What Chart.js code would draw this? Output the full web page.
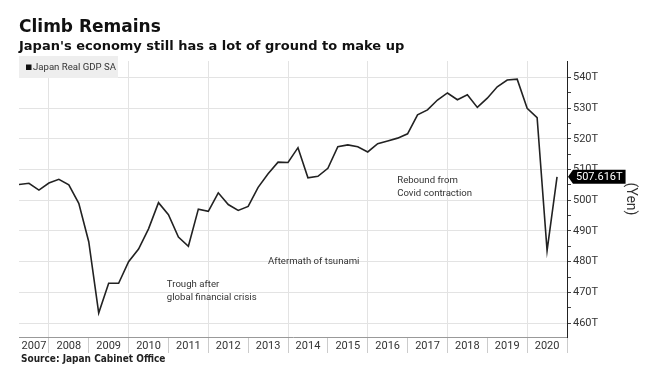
<!DOCTYPE html>
<html>
<head>
<meta charset="utf-8">
<script src="https://cdn.jsdelivr.net/npm/chart.js@4.4.1/dist/chart.umd.min.js"></script>
<style>
  html, body { margin: 0; padding: 0; background: #fff; }
  #wrap { width: 649px; height: 380px; position: relative; }
</style>
</head>
<body>
<div id="wrap"><canvas id="gdpChart"></canvas></div>
<script>
// Japan real GDP, seasonally adjusted (trillion yen), quarterly
const quarters = [
  "2007 Q1","2007 Q2","2007 Q3","2007 Q4","2008 Q1","2008 Q2","2008 Q3","2008 Q4",
  "2009 Q1","2009 Q2","2009 Q3","2009 Q4","2010 Q1","2010 Q2","2010 Q3","2010 Q4",
  "2011 Q1","2011 Q2","2011 Q3","2011 Q4","2012 Q1","2012 Q2","2012 Q3","2012 Q4",
  "2013 Q1","2013 Q2","2013 Q3","2013 Q4","2014 Q1","2014 Q2","2014 Q3","2014 Q4",
  "2015 Q1","2015 Q2","2015 Q3","2015 Q4","2016 Q1","2016 Q2","2016 Q3","2016 Q4",
  "2017 Q1","2017 Q2","2017 Q3","2017 Q4","2018 Q1","2018 Q2","2018 Q3","2018 Q4",
  "2019 Q1","2019 Q2","2019 Q3","2019 Q4","2020 Q1","2020 Q2","2020 Q3"
];
const gdpValues = [
  505.1, 505.5, 503.3, 505.6, 506.8, 505.0, 499.0, 486.5,
  463.3, 473.0, 473.0, 480.0, 484.1, 490.7, 499.2, 495.3,
  488.0, 485.0, 497.1, 496.4, 502.4, 498.6, 496.7, 498.0,
  504.2, 508.6, 512.4, 512.3, 517.1, 507.3, 507.8, 510.4,
  517.4, 518.0, 517.4, 515.7, 518.4, 519.3, 520.2, 521.6,
  527.8, 529.4, 532.6, 534.9, 532.7, 534.3, 530.2, 533.2,
  536.9, 539.1, 539.4, 529.9, 526.9, 483.6, 507.616
];
const yearLabels = ["2007","2008","2009","2010","2011","2012","2013",
                    "2014","2015","2016","2017","2018","2019","2020"];
const yTickValues = [460, 470, 480, 490, 500, 510, 520, 530, 540];

const notes = [
  { lines: ["Rebound from", "Covid contraction"], x: 2016.74, y: 506.4 },
  { lines: ["Aftermath of tsunami"], x: 2013.5, y: 480.0 },
  { lines: ["Trough after", "global financial crisis"], x: 2010.96, y: 472.5 }
];

const GRID = "#e3e3e3";
const TEXT = "#222";

// quarter label -> decimal year at end of quarter
function quarterEnd(q) {
  const [yr, qq] = q.split(" Q");
  return Number(yr) + Number(qq) / 4;
}
const points = quarters.map((q, i) => ({ x: quarterEnd(q), y: gdpValues[i] }));

const firstYear = Number(yearLabels[0]);
const lastYear = Number(yearLabels[yearLabels.length - 1]);
const xMin = quarterEnd(quarters[0]);
const xMax = lastYear + 1;

const extras = {
  id: "extras",
  afterDatasetsDraw(chart) {
    const { ctx, scales: { x, y } } = chart;
    ctx.save();
    ctx.fillStyle = "#333";
    ctx.font = "9.6px Roboto";
    ctx.textBaseline = "middle";
    notes.forEach(n => {
      const px = x.getPixelForValue(n.x);
      const py = y.getPixelForValue(n.y);
      n.lines.forEach((t, i) => ctx.fillText(t, px, py + i * 13));
    });
    ctx.restore();
  },
  afterDraw(chart) {
    const { ctx, chartArea, scales: { y } } = chart;
    ctx.save();

    // legend box, top left of the plot
    const ds = chart.data.datasets[0];
    const lx = chartArea.left, ly = chartArea.top - 5;
    ctx.fillStyle = "#eeeeee";
    ctx.fillRect(lx, ly, 99, 22);
    ctx.fillStyle = ds.backgroundColor;
    ctx.fillRect(lx + 7, ly + 8.5, 5.5, 5.5);
    ctx.fillStyle = "#333";
    ctx.font = "9.6px Roboto";
    ctx.textBaseline = "middle";
    ctx.fillText(ds.label, lx + 14, ly + 11.5);

    // last value tag on the axis
    const last = gdpValues[gdpValues.length - 1];
    const py = y.getPixelForValue(last);
    const label = last.toFixed(3) + "T";
    ctx.font = "11px Roboto";
    const w = ctx.measureText(label).width + 6;
    const x0 = y.left + 6;
    ctx.fillStyle = "#000";
    ctx.beginPath();
    ctx.moveTo(y.left + 1, py);
    ctx.lineTo(x0, py - 7);
    ctx.lineTo(x0 + w, py - 7);
    ctx.lineTo(x0 + w, py + 7);
    ctx.lineTo(x0, py + 7);
    ctx.closePath();
    ctx.fill();
    ctx.fillStyle = "#fff";
    ctx.fillText(label, x0 + 3, py + 0.5);

    // source line
    ctx.fillStyle = TEXT;
    ctx.font = "bold 10px 'DejaVu Sans Condensed', 'DejaVu Sans'";
    ctx.textBaseline = "alphabetic";
    ctx.fillText("Source: Japan Cabinet Office", 21, 362);
    ctx.restore();
  }
};

new Chart(document.getElementById("gdpChart"), {
  type: "line",
  data: {
    datasets: [{
      label: "Japan Real GDP SA",
      data: points,
      borderColor: "#222",
      backgroundColor: "#111",
      borderWidth: 1.6,
      pointRadius: 0,
      tension: 0
    }]
  },
  options: {
    responsive: true,
    maintainAspectRatio: false,
    animation: false,
    layout: { padding: { left: 19, right: 0, top: 0, bottom: 26 } },
    plugins: {
      title: {
        display: true, text: "Climb Remains", align: "start", color: "#111",
        font: { family: "DejaVu Sans", weight: "bold", size: 17 },
        padding: { top: 17, bottom: 0 }
      },
      subtitle: {
        display: true, text: "Japan's economy still has a lot of ground to make up",
        align: "start", color: "#111",
        font: { family: "DejaVu Sans", weight: "bold", size: 13 },
        padding: { top: 1, bottom: 7 }
      },
      legend: { display: false },
      tooltip: { enabled: false }
    },
    scales: {
      x: {
        type: "linear", min: xMin, max: xMax,
        afterBuildTicks(scale) {
          const t = [];
          yearLabels.forEach(l => {
            const yr = Number(l);
            t.push({ value: yr === firstYear ? (xMin + yr + 1) / 2 : yr + 0.5 });
          });
          for (let yr = firstYear + 1; yr <= xMax; yr++) t.push({ value: yr });
          t.sort((a, b) => a.value - b.value);
          scale.ticks = t;
        },
        afterFit(scale) { scale.height = 17; },
        ticks: {
          autoSkip: false, maxRotation: 0, minRotation: 0,
          padding: -13, color: "#333",
          font: { family: "Roboto", size: 11 },
          callback: v => Number.isInteger(v) ? "" : String(Math.floor(v))
        },
        grid: {
          tickLength: 16,
          color: ctx => (ctx.tick && Number.isInteger(ctx.tick.value) && ctx.tick.value % 2 === 0) ? GRID : "transparent",
          tickColor: ctx => (ctx.tick && Number.isInteger(ctx.tick.value)) ? "#ccc" : "transparent"
        },
        border: { color: "#999" }
      },
      y: {
        position: "right", min: 455.5, max: 545.3,
        afterBuildTicks(scale) {
          const t = [];
          yTickValues.forEach((v, i) => {
            t.push({ value: v });
            if (i < yTickValues.length - 1) t.push({ value: (v + yTickValues[i + 1]) / 2 });
          });
          scale.ticks = t;
        },
        afterFit(scale) { scale.width = 82; },
        ticks: {
          padding: 2, color: "#333",
          font: { family: "Roboto", size: 11 },
          callback: v => yTickValues.includes(v) ? v + "T" : ""
        },
        grid: {
          tickLength: 4,
          color: ctx => (ctx.tick && yTickValues.includes(ctx.tick.value)) ? GRID : "transparent",
          tickColor: "#444"
        },
        border: { color: "#222" },
        title: {
          display: true, text: "(Yen)", color: "#333",
          font: { family: "Roboto", size: 14 },
          padding: { top: 10, bottom: 0 }
        }
      }
    }
  },
  plugins: [extras]
});
</script>
</body>
</html>
